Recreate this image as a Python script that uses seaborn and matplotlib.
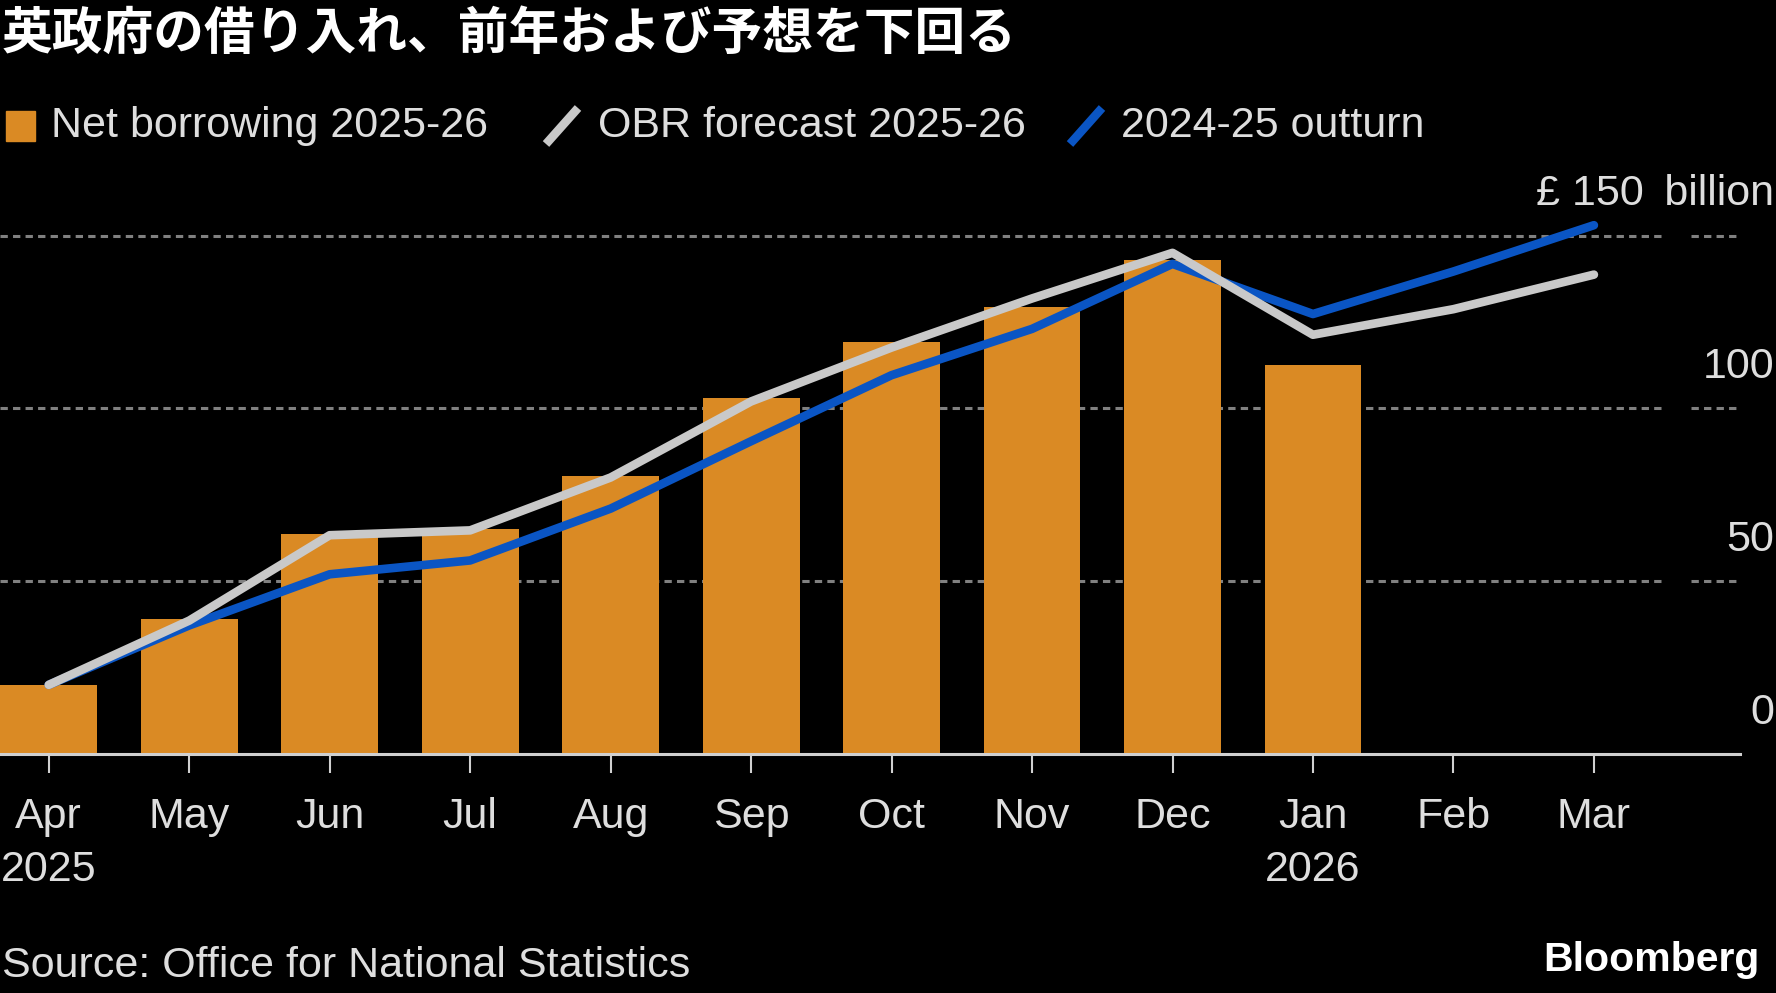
import numpy as np
import pandas as pd
import matplotlib
matplotlib.use("Agg")
import matplotlib.pyplot as plt
import seaborn as sns
from matplotlib.lines import Line2D
from matplotlib.patches import Rectangle

# ---------------- data ----------------
months = ["Apr", "May", "Jun", "Jul", "Aug", "Sep", "Oct", "Nov", "Dec", "Jan", "Feb", "Mar"]
month_labels = ["Apr\n2025", "May", "Jun", "Jul", "Aug", "Sep", "Oct", "Nov", "Dec",
                "Jan\n2026", "Feb", "Mar"]
net_borrowing = [20.1, 39.0, 63.6, 65.2, 80.4, 102.9, 119.1, 129.4, 142.8, 112.5]
obr_forecast = [20.0, 38.6, 63.3, 64.7, 80.0, 102.0, 117.6, 131.8, 145.0, 121.3, 128.7, 138.7]
outturn_2024_25 = [20.0, 37.2, 52.0, 56.0, 71.0, 90.5, 109.6, 123.0, 141.8, 127.3, 139.6, 153.0]
y_ticks = [0, 50, 100, 150]
y_tick_labels = ["0", "50", "100", "£ 150 \u2009billion"]
title = "英政府の借り入れ、前年および予想を下回る"
legend_labels = ["Net borrowing 2025-26", "OBR forecast 2025-26", "2024-25 outturn"]
source = "Source: Office for National Statistics"

ORANGE = "#DA8A24"
GRAY = "#C9C9C9"
BLUE = "#0A55C4"
TEXT = "#DEDEDE"
GRID = "#808080"
FS = 31

sns.set_theme(style="dark", rc={"axes.facecolor": "black", "figure.facecolor": "black"})
plt.rcParams["font.family"] = ["Liberation Sans", "Noto Sans CJK JP", "DejaVu Sans"]

W, H = 1776, 993
fig = plt.figure(figsize=(W / 100, H / 100), dpi=100, facecolor="black")
y0_px, ytop_px = 754, 201
ax = fig.add_axes([0, 1 - y0_px / H, 1740 / W, (y0_px - ytop_px) / H])
ax.set_facecolor("black")

bar_df = pd.DataFrame({"month": months[:len(net_borrowing)], "value": net_borrowing})
sns.barplot(data=bar_df, x="month", y="value", order=months, color=ORANGE,
            saturation=1, width=0.69, linewidth=0, errorbar=None, ax=ax, zorder=2)

line_df = pd.DataFrame({"pos": np.arange(len(months)), "obr": obr_forecast,
                        "prev": outturn_2024_25})
sns.lineplot(data=line_df, x="pos", y="prev", color=BLUE, lw=6.2, ax=ax,
             solid_capstyle="round", solid_joinstyle="round", zorder=3)
sns.lineplot(data=line_df, x="pos", y="obr", color=GRAY, lw=6.2, ax=ax,
             solid_capstyle="round", solid_joinstyle="round", zorder=4)

ax.set_xlim(-0.347, 12.04)
ax.set_ylim(0, 160)
ax.set_xlabel("")
ax.set_ylabel("")
ax.set_yticks([])
ax.set_xticks(range(len(months)))
ax.set_xticklabels(month_labels)
for lbl in ax.get_xticklabels():
    lbl.set_linespacing(1.42)
ax.tick_params(axis="x", bottom=True, colors="#D0D0D0", length=13.7, width=1.5,
               pad=17, labelsize=FS, labelcolor=TEXT)
for s in ["top", "left", "right"]:
    ax.spines[s].set_visible(False)
ax.spines["bottom"].set_color("#D0D0D0")
ax.spines["bottom"].set_linewidth(2.2)
ax.spines["bottom"].set_zorder(5)
ax.grid(False)

ytr = ax.get_yaxis_transform()
for v in y_ticks[1:]:
    ax.plot([0, 1663 / 1740], [v, v], transform=ytr, color=GRID, lw=2.2,
            ls=(0, (2.4, 1.7)), zorder=0)
    ax.plot([1691 / 1740, 1.0], [v, v], transform=ytr, color=GRID, lw=2.2,
            ls=(0, (2.4, 1.7)), zorder=0)
for v, lab in zip(y_ticks, y_tick_labels):
    ax.text(1774 / 1740, v + 11.9, lab, transform=ytr, ha="right", va="center",
            fontsize=FS, color=TEXT, clip_on=False)

# title
fig.text(2 / W, 1 - 34 / H, title, ha="left", va="center", fontsize=36.5,
         fontweight="bold", color="white", family=["Noto Sans CJK JP", "DejaVu Sans"])

# legend (manual)
ly = 1 - 126 / H
fig.add_artist(Rectangle((6 / W, 1 - 141 / H), 29 / W, 30 / H, transform=fig.transFigure,
                         color=ORANGE))
fig.text(51 / W, ly, legend_labels[0], ha="left", va="center", fontsize=FS, color=TEXT)
fig.add_artist(Line2D([546 / W, 578 / W], [1 - 144 / H, 1 - 108 / H], transform=fig.transFigure,
                      color=GRAY, lw=6.2, solid_capstyle="butt"))
fig.text(598 / W, ly, legend_labels[1], ha="left", va="center", fontsize=FS, color=TEXT)
fig.add_artist(Line2D([1070 / W, 1102 / W], [1 - 144 / H, 1 - 108 / H], transform=fig.transFigure,
                      color=BLUE, lw=6.2, solid_capstyle="butt"))
fig.text(1121 / W, ly, legend_labels[2], ha="left", va="center", fontsize=FS, color=TEXT)

# footer
fig.text(2 / W, 1 - 966 / H, source, ha="left", va="center", fontsize=FS, color=TEXT)
fig.text(1759 / W, 1 - 960 / H, "Bloomberg", ha="right", va="center", fontsize=29.5,
         fontweight="bold", color="white")

fig.savefig("out.png", dpi=100, facecolor="black")
